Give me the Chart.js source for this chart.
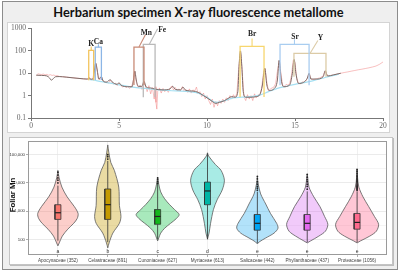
<!DOCTYPE html>
<html><head><meta charset="utf-8">
<script src="https://cdn.jsdelivr.net/npm/chart.js@4/dist/chart.umd.min.js"></script>
<style>
html,body{margin:0;padding:0;background:#fff;}
#page{position:relative;width:400px;height:276px;overflow:hidden;}
#frame{position:absolute;left:2px;top:1px;width:394px;height:267px;border:1px solid #8c8c8c;background:#efefef;}
#title{position:absolute;left:0;top:4px;width:397px;text-align:center;font:bold 12.8px Lato, "Liberation Sans", sans-serif;color:#111;white-space:nowrap;}
#p1{position:absolute;left:7px;top:22px;width:381px;height:109px;border:1px solid #d4d4d4;background:#fff;}
#p2{position:absolute;left:9px;top:137px;width:382px;height:126px;border:1px solid #c4c4c4;background:#fff;box-shadow:1px 1px 0 #bdbdbd;}
canvas{position:absolute;}
#c1{left:7px;top:22px;}
#c2{left:9px;top:137px;}
</style></head>
<body><div id="page">
<div id="frame"></div>
<div id="title">Herbarium specimen X-ray fluorescence metallome</div>
<div id="p1"></div><div id="p2"></div>
<canvas id="c1" width="382" height="110"></canvas>
<canvas id="c2" width="383" height="127"></canvas>
</div>
<script>
// ---------- Spectrum data (energy keV, counts) ----------
const rawE = [0.3,0.4,0.5,0.6,0.7,0.8,0.9,1.0,1.1,1.2,1.3,1.4,1.5,1.6,1.8,2.0,2.2,2.4,2.6,2.8,3.0,3.2,3.3,3.4,3.5,3.6,3.7,3.8,3.9,4.0,4.1,4.2,4.3,4.4,4.5,4.6,4.7,4.8,4.9,5.0,5.1,5.2,5.3,5.4,5.5,5.6,5.7,5.8,5.9,6.0,6.1,6.2,6.3,6.4,6.5,6.6,6.7,6.8,6.9,7.0,7.05,7.1,7.15,7.2,7.3,7.4,7.5,7.6,7.7,7.8,7.9,8.0,8.1,8.2,8.3,8.4,8.5,8.6,8.7,8.8,8.9,9.0,9.1,9.2,9.3,9.4,9.5,9.6,9.7,9.8,9.9,10.0,10.1,10.2,10.3,10.4,10.5,10.6,10.7,10.8,10.9,11.0,11.1,11.2,11.3,11.4,11.5,11.6,11.7,11.8,11.9,12.0,12.1,12.2,12.3,12.4,12.5,12.6,12.7,12.8,12.9,13.0,13.1,13.2,13.3,13.4,13.5,13.6,13.7,13.8,13.9,14.0,14.1,14.2,14.3,14.4,14.5,14.6,14.7,14.8,14.9,15.0,15.1,15.2,15.3,15.4,15.5,15.6,15.7,15.8,15.9,16.0,16.2,16.4,16.6,16.7,16.8,16.9,17.0,17.2,17.4,17.6,17.8,18.0,18.2,18.4,18.6,18.8,19.0,19.2,19.4,19.6,19.8,20.0];
const rawCounts = [8,9.5,9,8.8,9.2,8.5,8.9,8.2,8.6,8.0,8.3,7.6,7.9,7.2,7.0,6.8,6.5,6.3,6.0,5.8,5.6,5.4,6.3,5.5,5.2,13,27,9,5,6.8,4.5,3.9,4.2,3.6,5.0,3.8,3.3,3.6,2.8,3.6,2.9,2.4,2.8,2.3,2.6,2.1,2.5,4,12,3.5,2.2,2.9,1.9,4.2,2.6,1.5,2.8,1.2,2.3,0.7,2.5,0.5,0.25,1.6,2.2,1.3,2.1,1.5,1.9,1.4,2.2,2.7,1.8,2.3,1.6,2.0,1.7,2.5,1.5,1.9,1.4,2.0,1.3,1.8,1.6,2.4,1.2,1.5,0.9,1.3,0.7,1.0,0.6,0.4,0.7,0.3,0.55,0.35,0.6,0.45,0.7,0.5,0.8,0.6,1.0,0.7,1.1,0.8,1.3,15,95,12,0.9,0.6,1.1,0.7,1.0,0.6,1.2,0.8,1.1,1.0,2,9,16,4,1.6,2.0,2.2,2.4,3.5,12,36,10,2.8,2.6,3.2,2.9,3.6,8,38,30,6,3.6,3.3,4.1,3.9,4.5,6,9.5,6,5.1,5.6,6.2,7.5,12.5,9,7.2,7.8,8.5,9.2,10,10.8,11.5,12.4,13.3,14.3,15.2,16.3,17.5,19,21,25,32];
const fitE = [0.3,0.6,0.9,1.05,1.15,1.25,1.4,1.6,2.0,2.5,3.0,3.2,3.3,3.4,3.55,3.6,3.68,3.76,3.85,4.0,4.1,4.3,4.5,4.6,4.9,5.0,5.1,5.5,5.75,5.82,5.9,5.98,6.1,6.3,6.42,6.55,6.8,7.0,7.5,7.9,8.05,8.2,8.5,8.63,8.8,9.2,9.5,9.8,10.0,10.3,10.5,10.7,11.0,11.2,11.4,11.6,11.75,11.82,11.9,11.98,12.06,12.2,12.5,12.8,13.0,13.15,13.28,13.4,13.55,13.8,14.0,14.1,14.22,14.35,14.7,14.85,14.95,15.05,15.2,15.5,15.7,15.8,15.9,16.2,16.6,16.72,16.85,17.2,17.6];
const fitCounts = [8.2,8.0,7.6,6.2,4.9,5.6,7.0,7.1,6.7,6.1,5.6,5.5,6.2,5.4,6,14,28,14,5.5,7,4.5,4.0,5.2,4.2,3.2,3.8,3.0,2.5,2.5,5,12.5,5,2.6,2.6,4.3,2.4,2.2,2.0,1.8,2.0,2.6,1.9,1.8,2.4,1.7,1.6,1.4,1.0,0.8,0.55,0.45,0.5,0.6,0.75,0.9,0.85,1.5,20,100,20,1.5,0.85,0.85,0.9,1.1,3,17,3,1.7,2,5,38,5,2.5,3.0,10,42,10,3.5,4,6,10,5.5,5.5,7,13,7.5,8.5,10];
const baseE = [3.3,3.5,4.0,4.5,5.0,5.5,6.0,6.5,7.0,7.5,8.0,8.5,9.0,9.5,10.0,10.5,11.0,11.5,12.0,12.5,13.0,13.5,14.0,14.5,15.0,15.5,16.0,16.5,17.0,17.5];
const baseCounts = [5.3,5,4.2,3.6,3,2.6,2.3,2.1,1.9,1.75,1.65,1.6,1.5,1.3,0.85,0.5,0.6,0.8,0.85,0.9,1.05,1.5,2.1,2.6,3.2,3.8,4.6,5.8,7.5,9];
// element line brackets
const elements   = ['K','Ca','Mn','Fe','Br','Sr','Y'];
const elemX1     = [3.28,3.65,5.85,6.38,11.88,14.15,14.94];
const elemX2     = [3.56,4.0,6.42,7.05,13.24,15.8,16.76];
const elemTop    = [105,148,148,195,158,195,77];
const elemBottom = [4.9,5,3,0.85,0.86,2.9,7];
const leadEndX   = [3.42,3.83,6.5,7.2,12.56,14.97,16.3];
const leadEndY   = [158,200,520,1000,360,330,290];
const labelX     = [3.42,3.83,6.55,7.45,12.56,15.0,16.45];
const labelY     = [200,250,640,870,540,430,360];
const elemColors = ['#f3c45c','#8cb6e6','#c98a76','#b9b9b9','#f7d66e','#a9cdf0','#dccba6'];
const spectrumXTicks = [0,5,10,15,20];
const spectrumYTicks = [0.1,1,10,100,1000];

// ---------- Violin data (foliar Mn) ----------
const families = ['Apocynaceae','Celastraceae','Cunoniaceae','Myrtaceae','Salicaceae','Phyllanthaceae','Proteaceae'];
const familyN  = [352,891,627,613,442,437,1056];
const groupLetters = ['a','b','c','d','e','e','e'];
const mnQ1     = [511,511,343,1690,212,212,230];
const mnMedian = [880,1700,650,5200,371,371,400];
const mnQ3     = [1690,6100,1140,10700,762,762,830];
const mnWhiskLo= [90,80,100,100,75,80,80];
const mnWhiskHi= [8000,60000,9000,110000,4800,5000,5000];
const mnOutliers = [
  [10000,12500,15000,19000,24000],
  [70000,85000,100000],
  [9500,11000,13000,15000],
  [],
  [5500,6500,7500,9000,11000,14000,17000],
  [6000,7500,9000,11000,13000,16000,20000],
  [5500,6000,6500,7000,7500,8000,9000,10000,11000,12000,13500,15000,17000,19000,22000,26000,30000]
];
const violinLevels = [
  [59,75,131,230,371,553,826,1450,3210,7140,15900,27800],
  [50,75,167,371,650,1600,7140,27800,52700,117000,222000],
  [88,112,167,249,371,553,762,1140,1690,2740,4800,9080,15900],
  [103,167,371,1140,2530,5620,12500,27800,45000,90000,117000],
  [69,81,112,167,249,371,826,1800,4080,9080,15900],
  [75,88,131,196,343,650,1450,3210,7140,15900,20200],
  [75,88,131,196,343,650,1450,3210,7140,15900,30100]
];
const violinDensity = [
  [0,0.06,0.2,0.45,0.72,0.88,0.92,0.75,0.42,0.18,0.05,0],
  [0,0.06,0.23,0.53,0.6,0.53,0.5,0.3,0.14,0.05,0],
  [0,0.05,0.14,0.32,0.59,0.86,0.98,0.77,0.55,0.32,0.14,0.05,0],
  [0,0.07,0.14,0.27,0.44,0.67,0.77,0.62,0.36,0.05,0],
  [0,0.08,0.38,0.76,0.94,0.88,0.6,0.38,0.15,0.04,0],
  [0,0.15,0.53,0.83,0.94,0.79,0.58,0.3,0.08,0.02,0],
  [0,0.15,0.58,0.88,0.98,0.79,0.53,0.27,0.08,0.02,0]
];
const violinFill = ['rgba(248,118,109,0.36)','rgba(196,154,0,0.36)','rgba(0,190,60,0.34)','rgba(0,195,180,0.34)','rgba(0,160,240,0.30)','rgba(215,100,240,0.34)','rgba(255,100,140,0.36)'];
const boxFill = ['#f8766d','#c49a00','#12b81c','#00b5a5','#00a5f5','#e36bf0','#ff6a8e'];
const mnMajorTicks = [100,1000,10000,100000];
const mnMinorTicks = [316,3162,31623];
const letterLevel = 38;
const mnAxisTitle = 'Foliar Mn';

// ---------- Top chart: spectrum ----------
const toPts = (xs, ys) => xs.map((x,i)=>({x, y: ys[i]}));
const topSets = [
  {data: toPts(rawE, rawCounts), borderColor:'rgba(240,110,110,0.55)', borderWidth:0.8, order:10, tension:0},
  {data: toPts(baseE, baseCounts), borderColor:'#a6e0f2', borderWidth:1.2, order:9, cubicInterpolationMode:'monotone'},
  {data: toPts(fitE, fitCounts), borderColor:'#7e6a66', borderWidth:1, order:8, cubicInterpolationMode:'monotone'}
];
elements.forEach((el,i)=>{
  topSets.push({data:[{x:elemX1[i],y:elemBottom[i]},{x:elemX1[i],y:elemTop[i]},{x:elemX2[i],y:elemTop[i]},{x:elemX2[i],y:elemBottom[i]}],
    borderColor:elemColors[i], borderWidth:1.3, order:2, tension:0});
  const mid=(elemX1[i]+elemX2[i])/2;
  topSets.push({data:[{x:mid,y:elemTop[i]},{x:leadEndX[i],y:leadEndY[i]}], borderColor:elemColors[i], borderWidth:1.1, order:2, tension:0});
});
const elemLabelPlugin = {id:'elemLabels', afterDatasetsDraw(chart){
  const {ctx, scales:{x,y}} = chart; ctx.save();
  ctx.font='bold 7.5px "Liberation Serif", serif'; ctx.fillStyle='#222'; ctx.textAlign='center'; ctx.textBaseline='middle';
  elements.forEach((el,i)=>ctx.fillText(el, x.getPixelForValue(labelX[i]), y.getPixelForValue(labelY[i])));
  ctx.restore();
}};
new Chart(document.getElementById('c1'), {
  type:'line',
  data:{datasets:topSets},
  options:{responsive:false, animation:false, devicePixelRatio:1,
    layout:{padding:{top:6,right:6,left:0,bottom:0}},
    elements:{point:{radius:0}, line:{fill:false}},
    plugins:{legend:{display:false}, tooltip:{enabled:false}},
    scales:{
      x:{type:'linear', min:0, max:20,
        afterBuildTicks(s){s.ticks=spectrumXTicks.map(v=>({value:v}));},
        ticks:{font:{family:'"Liberation Serif"', size:7.5}, color:'#666', padding:1, maxRotation:0, autoSkip:false},
        grid:{drawOnChartArea:false, tickLength:3, color:'#777'}, border:{color:'#777', width:1},
        afterFit(s){s.height=14;}},
      y:{type:'logarithmic', min:0.1, max:1000,
        afterBuildTicks(s){s.ticks=spectrumYTicks.map(v=>({value:v}));},
        ticks:{font:{family:'"Liberation Serif"', size:7.5}, color:'#666', padding:2, autoSkip:false, callback:v=>String(v)},
        grid:{drawOnChartArea:false, tickLength:3, color:'#777'}, border:{color:'#777', width:1},
        afterFit(s){s.width=24;}}
    }
  },
  plugins:[elemLabelPlugin]
});

// ---------- Bottom chart: violins ----------
const VW = 0.44, BW = 0.06;
const botSets = [];
families.forEach((f,i)=>{
  const c=i+1, lv=violinLevels[i], d=violinDensity[i];
  const pts=[];
  lv.forEach((v,k)=>pts.push({x:c+d[k]*VW, y:v}));
  for(let k=lv.length-1;k>=0;k--) pts.push({x:c-d[k]*VW, y:lv[k]});
  botSets.push({data:pts, fill:'shape', backgroundColor:violinFill[i], borderColor:'#5a5a5a', borderWidth:0.8, tension:0.3, order:20});
  botSets.push({data:[{x:c,y:mnWhiskLo[i]},{x:c,y:mnQ1[i]},{x:c,y:null},{x:c,y:mnQ3[i]},{x:c,y:mnWhiskHi[i]}], borderColor:'#333', borderWidth:0.8, spanGaps:false, tension:0, order:15});
  botSets.push({data:[{x:c-BW,y:mnQ1[i]},{x:c+BW,y:mnQ1[i]},{x:c+BW,y:mnQ3[i]},{x:c-BW,y:mnQ3[i]},{x:c-BW,y:mnQ1[i]}], fill:'shape', backgroundColor:boxFill[i], borderColor:'#333', borderWidth:0.8, tension:0, order:10});
  botSets.push({data:[{x:c-BW,y:mnMedian[i]},{x:c+BW,y:mnMedian[i]}], borderColor:'#222', borderWidth:1.2, tension:0, order:5});
  botSets.push({data:mnOutliers[i].map(v=>({x:c,y:v})), showLine:false, pointRadius:0.9, pointBackgroundColor:'#222', pointBorderWidth:0, order:1});
});
const panelPlugin = {id:'panel', afterDraw(chart){
  const {ctx, chartArea:a, scales:{x,y}} = chart; ctx.save();
  ctx.strokeStyle='#9a9a9a'; ctx.lineWidth=1; ctx.strokeRect(a.left+0.5, a.top+0.5, a.right-a.left-1, a.bottom-a.top-1);
  ctx.font='5px "Liberation Sans", sans-serif'; ctx.fillStyle='#333'; ctx.textAlign='center'; ctx.textBaseline='middle';
  groupLetters.forEach((l,i)=>ctx.fillText(l, x.getPixelForValue(i+1), y.getPixelForValue(letterLevel)));
  ctx.translate(3.5, (a.top+a.bottom)/2 - 3); ctx.rotate(-Math.PI/2);
  ctx.font='bold 7.8px "Liberation Sans", sans-serif'; ctx.fillStyle='#111';
  ctx.fillText(mnAxisTitle, 0, 0);
  ctx.restore();
}};
new Chart(document.getElementById('c2'), {
  type:'scatter',
  data:{datasets:botSets},
  options:{responsive:false, animation:false, devicePixelRatio:1,
    layout:{padding:{top:1,right:5,left:0,bottom:0}},
    elements:{point:{radius:0}},
    plugins:{legend:{display:false}, tooltip:{enabled:false}},
    datasets:{scatter:{showLine:true}},
    scales:{
      x:{type:'linear', min:0.4, max:7.6,
        afterBuildTicks(s){s.ticks=families.map((f,i)=>({value:i+1}));},
        ticks:{font:{family:'"Liberation Sans"', size:4.6}, color:'#444', padding:1, maxRotation:0, autoSkip:false,
          callback:v=>families[v-1]+' ('+familyN[v-1]+')'},
        grid:{color:'#ececec', lineWidth:0.8, tickLength:2, tickColor:'#999'}, border:{display:false},
        afterFit(s){s.height=9;}},
      y:{type:'logarithmic', min:28, max:306000,
        afterBuildTicks(s){s.ticks=mnMajorTicks.concat(mnMinorTicks).sort((a,b)=>a-b).map(v=>({value:v}));},
        ticks:{font:{family:'"Liberation Sans"', size:4.3}, color:'#333', padding:1, autoSkip:false,
          callback:v=>mnMajorTicks.includes(v)? v.toLocaleString('en-US'):''},
        grid:{color:c=>mnMajorTicks.includes(c.tick && c.tick.value)?'#e6e6e6':'#f3f3f3', lineWidth:0.8, tickLength:2,
          tickColor:c=>mnMajorTicks.includes(c.tick && c.tick.value)?'#999':'rgba(0,0,0,0)'}, border:{display:false},
        afterFit(s){s.width=19;}}
    }
  },
  plugins:[panelPlugin]
});
</script>
</body></html>
